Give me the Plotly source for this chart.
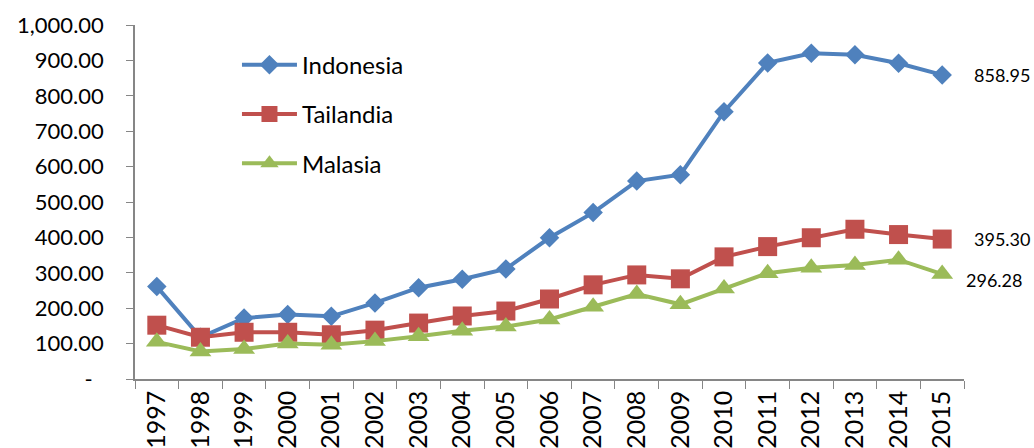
import plotly.graph_objects as go

years = [str(y) for y in range(1997, 2016)]
indonesia = [261, 118, 172, 182, 177, 215, 258, 282, 311, 399, 470, 559, 577, 755, 893, 920, 916, 892, 858.95]
tailandia = [152, 118, 132, 132, 125, 138, 158, 178, 192, 226, 266, 294, 283, 345, 374, 399, 423, 408, 395.30]
malasia = [105, 78, 85, 100, 97, 107, 121, 136, 148, 168, 204, 240, 211, 256, 299, 314, 322, 337, 296.28]

series_names = ["Indonesia", "Tailandia", "Malasia"]
series_values = [indonesia, tailandia, malasia]
colors = ["#4F81BD", "#C0504D", "#9BBB59"]
symbols = ["diamond", "square", "triangle-up"]
msizes = [15, 19, 19]

ytick_vals = [0, 100, 200, 300, 400, 500, 600, 700, 800, 900, 1000]
ytick_text = ["-\u00a0\u00a0", "100.00", "200.00", "300.00", "400.00", "500.00",
              "600.00", "700.00", "800.00", "900.00", "1,000.00"]

FONT = "Lato, 'Open Sans', sans-serif"

fig = go.Figure()
for name, vals, c, s, ms in zip(series_names, series_values, colors, symbols, msizes):
    fig.add_trace(go.Scatter(
        x=years, y=vals, name=name, mode="lines+markers",
        line=dict(color=c, width=4),
        marker=dict(symbol=s, size=ms, color=c),
        legendgroup=name,
    ))

# end labels
last = len(years) - 1
label_shifts = [(30, 0), (30, 0), (22, -6)]
for vals, (xs, ys) in zip(series_values, label_shifts):
    fig.add_annotation(x=last, y=vals[-1], xref="x", yref="y", text=f"{vals[-1]:.2f}", showarrow=False,
                       xanchor="left", yanchor="middle", xshift=xs, yshift=ys,
                       font=dict(family=FONT, size=18, color="#000000"))

fig.update_layout(
    width=1034, height=448,
    margin=dict(l=135, r=70, t=25, b=69),
    paper_bgcolor="white", plot_bgcolor="white",
    font=dict(family=FONT, size=22, color="#000000"),
    showlegend=True,
    legend=dict(x=0.123, y=0.95, xanchor="left", yanchor="top", bgcolor="rgba(0,0,0,0)",
                font=dict(family=FONT, size=24), tracegroupgap=15, itemwidth=55),
    xaxis=dict(type="category", showgrid=False, showline=True, linecolor="#868686", linewidth=1.5,
               ticks="outside", ticklen=8, tickcolor="#868686", tickson="boundaries",
               tickangle=-90, tickfont=dict(family=FONT, size=25), range=[-0.5, 18.5],
               automargin=False),
    yaxis=dict(range=[0, 1000], showgrid=False, showline=True, linecolor="#868686", linewidth=1.5,
               ticks="outside", ticklen=7, tickcolor="#868686", tickvals=ytick_vals, ticktext=ytick_text,
               tickfont=dict(family=FONT, size=22), ticklabelstandoff=18, zeroline=False,
               automargin=False),
)

fig.write_html("out.html")
